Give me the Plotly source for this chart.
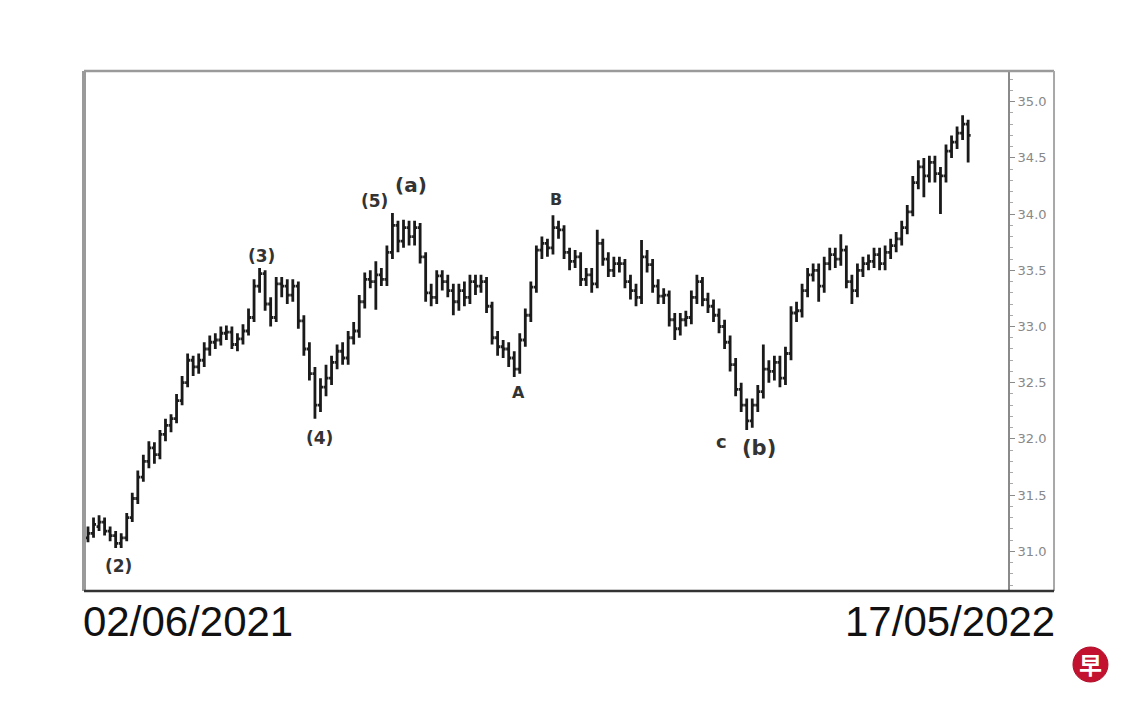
import plotly.graph_objects as go

# ---- data ----
opens = [31.12,31.16,31.22,31.26,31.18,31.14,31.07,31.12,31.30,31.47,
31.66,31.80,31.92,31.86,32.04,32.12,32.18,32.34,32.50,32.70,
32.64,32.70,32.80,32.86,32.88,32.94,32.95,32.84,32.89,32.96,
33.08,33.36,33.47,33.20,33.08,33.38,33.36,33.28,33.36,33.05,
32.80,32.58,32.30,32.46,32.54,32.68,32.78,32.72,32.90,32.96,
33.22,33.42,33.40,33.46,33.42,33.66,33.90,33.76,33.88,33.80,
33.88,33.62,33.30,33.26,33.45,33.40,33.32,33.22,33.32,33.26,
33.40,33.36,33.40,33.18,32.90,32.82,32.80,32.72,32.62,32.88,
33.10,33.35,33.68,33.74,33.70,33.88,33.86,33.66,33.58,33.62,
33.42,33.46,33.38,33.74,33.60,33.50,33.56,33.56,33.40,33.32,
33.26,33.62,33.55,33.36,33.27,33.28,33.06,32.98,33.06,33.08,
33.26,33.40,33.24,33.18,33.10,33.00,32.86,32.66,32.44,32.30,
32.16,32.30,32.42,32.62,32.60,32.68,32.54,32.76,33.12,33.14,
33.32,33.46,33.50,33.36,33.56,33.64,33.60,33.68,33.40,33.32,
33.50,33.56,33.58,33.64,33.56,33.66,33.72,33.78,33.88,34.02,
34.28,34.42,34.34,34.46,34.36,34.34,34.56,34.64,34.72,34.80]

highs = [31.22,31.30,31.32,31.30,31.22,31.18,31.16,31.34,31.52,31.72,
31.86,31.98,31.97,32.08,32.18,32.22,32.40,32.56,32.76,32.74,
32.76,32.86,32.92,32.94,33.00,33.01,33.00,32.94,33.02,33.16,
33.42,33.52,33.50,33.26,33.44,33.44,33.42,33.42,33.40,33.10,
32.86,32.64,32.54,32.66,32.74,32.84,32.86,32.96,33.04,33.28,
33.48,33.50,33.58,33.52,33.72,34.01,33.94,33.95,33.94,33.94,
33.92,33.66,33.38,33.50,33.50,33.46,33.38,33.38,33.40,33.46,
33.46,33.46,33.44,33.22,32.96,32.88,32.86,32.78,32.94,33.16,
33.40,33.72,33.80,33.78,33.99,33.94,33.90,33.70,33.68,33.66,
33.52,33.52,33.86,33.78,33.66,33.62,33.62,33.60,33.46,33.38,
33.77,33.68,33.60,33.42,33.34,33.32,33.12,33.12,33.14,33.32,
33.46,33.44,33.30,33.24,33.16,33.06,32.92,32.72,32.50,32.36,
32.36,32.48,32.84,32.70,32.74,32.74,32.82,33.18,33.22,33.38,
33.52,33.56,33.56,33.62,33.70,33.70,33.82,33.72,33.46,33.56,
33.62,33.64,33.70,33.70,33.72,33.78,33.84,33.94,34.08,34.34,
34.48,34.50,34.52,34.52,34.42,34.62,34.70,34.78,34.88,34.84]

lows = [31.08,31.12,31.18,31.14,31.09,31.03,31.03,31.09,31.26,31.42,
31.62,31.74,31.78,31.82,31.98,32.06,32.14,32.30,32.46,32.56,
32.58,32.64,32.74,32.80,32.83,32.88,32.80,32.78,32.84,32.92,
33.04,33.30,33.14,33.00,33.04,33.26,33.20,33.22,32.98,32.74,
32.52,32.18,32.24,32.38,32.48,32.62,32.66,32.66,32.84,32.90,
33.16,33.34,33.15,33.36,33.36,33.60,33.66,33.70,33.72,33.72,
33.56,33.22,33.18,33.20,33.32,33.26,33.10,33.14,33.18,33.20,
33.28,33.30,33.12,32.84,32.74,32.72,32.64,32.55,32.58,32.82,
33.04,33.30,33.60,33.62,33.64,33.78,33.60,33.50,33.52,33.36,
33.36,33.30,33.34,33.54,33.44,33.44,33.48,33.34,33.24,33.18,
33.20,33.48,33.30,33.20,33.20,33.00,32.88,32.92,33.00,33.02,
33.20,33.18,33.12,33.04,32.94,32.80,32.60,32.38,32.24,32.08,
32.10,32.24,32.36,32.50,32.52,32.46,32.48,32.70,33.04,33.08,
33.26,33.40,33.22,33.30,33.50,33.52,33.54,33.34,33.20,33.26,
33.44,33.50,33.52,33.50,33.50,33.60,33.66,33.72,33.82,33.98,
34.22,34.15,34.28,34.28,34.00,34.28,34.50,34.58,34.66,34.46]

closes = [31.16,31.24,31.26,31.18,31.14,31.07,31.12,31.30,31.47,31.66,
31.80,31.92,31.86,32.04,32.12,32.18,32.34,32.50,32.70,32.64,
32.70,32.80,32.86,32.88,32.94,32.95,32.84,32.89,32.96,33.08,
33.36,33.47,33.20,33.08,33.38,33.36,33.28,33.36,33.05,32.80,
32.58,32.30,32.46,32.54,32.68,32.78,32.72,32.90,32.96,33.22,
33.42,33.40,33.46,33.42,33.66,33.90,33.76,33.88,33.80,33.88,
33.62,33.30,33.26,33.45,33.40,33.32,33.22,33.32,33.26,33.40,
33.36,33.40,33.18,32.90,32.82,32.80,32.72,32.62,32.88,33.10,
33.35,33.68,33.74,33.70,33.88,33.86,33.66,33.58,33.62,33.42,
33.46,33.38,33.74,33.60,33.50,33.56,33.56,33.40,33.32,33.26,
33.62,33.55,33.36,33.27,33.28,33.06,32.98,33.06,33.08,33.26,
33.40,33.24,33.18,33.10,33.00,32.86,32.66,32.44,32.30,32.16,
32.30,32.42,32.62,32.60,32.68,32.54,32.76,33.12,33.14,33.32,
33.46,33.50,33.36,33.56,33.64,33.60,33.68,33.40,33.32,33.50,
33.56,33.58,33.64,33.56,33.66,33.72,33.78,33.88,34.02,34.28,
34.42,34.34,34.46,34.36,34.34,34.56,34.64,34.72,34.80,34.70]

wave_labels = ["(2)", "(3)", "(4)", "(5)", "(a)", "A", "B", "c", "(b)"]
wave_index = [5.6, 31.4, 41.9, 51.7, 58.4, 77.7, 84.6, 114.5, 121.2]
wave_price = [30.87, 33.63, 32.01, 34.12, 34.26, 32.41, 34.13, 31.98, 31.92]
wave_size = [17, 17, 17, 17, 20, 16, 16, 18, 21]

price_ticks = [31.0, 31.5, 32.0, 32.5, 33.0, 33.5, 34.0, 34.5, 35.0]
start_label = "02/06/2021"
end_label = "17/05/2022"

idx = list(range(len(closes)))

fig = go.Figure()
fig.add_trace(go.Ohlc(
    x=idx, open=opens, high=highs, low=lows, close=closes,
    increasing=dict(line=dict(color="#1a1a1a", width=2.8)),
    decreasing=dict(line=dict(color="#1a1a1a", width=2.8)),
    tickwidth=0.45, showlegend=False, hoverinfo="skip",
))

for t, xi, yp, fs in zip(wave_labels, wave_index, wave_price, wave_size):
    fig.add_annotation(x=xi, y=yp, xref="x", yref="y", text="<b>" + t + "</b>",
                       showarrow=False,
                       font=dict(family="DejaVu Sans", size=fs, color="#333333"),
                       xanchor="center", yanchor="middle")

XR = 1.0498  # outer frame right edge in paper coords

# frame
fig.add_shape(type="line", xref="paper", yref="paper", x0=0, x1=0, y0=0, y1=1,
              line=dict(color="#9a9a9a", width=4))
fig.add_shape(type="line", xref="paper", yref="paper", x0=0, x1=XR, y0=1, y1=1,
              line=dict(color="#9a9a9a", width=2.5))
fig.add_shape(type="line", xref="paper", yref="paper", x0=XR, x1=XR, y0=0, y1=1,
              line=dict(color="#a8a8a8", width=2))
fig.add_shape(type="line", xref="paper", yref="paper", x0=0, x1=XR, y0=0, y1=0,
              line=dict(color="#333333", width=2.5))

# date labels
fig.add_annotation(x=-0.003, y=-0.058, xref="paper", yref="paper", text=start_label,
                   showarrow=False, xanchor="left", yanchor="middle",
                   font=dict(family="Liberation Sans", size=42, color="#111111"))
fig.add_annotation(x=1.053, y=-0.058, xref="paper", yref="paper", text=end_label,
                   showarrow=False, xanchor="right", yanchor="middle",
                   font=dict(family="Liberation Sans", size=42, color="#111111"))

# logo
fig.add_shape(type="circle", xref="paper", yref="paper",
              x0=1.0703, x1=1.1082, y0=-0.175, y1=-0.1077,
              fillcolor="#c3122f", line=dict(color="#b00f2a", width=1))
fig.add_annotation(x=1.0893, y=-0.1413, xref="paper", yref="paper", text="<b>早</b>",
                   showarrow=False, xanchor="center", yanchor="middle",
                   font=dict(family="Noto Sans CJK SC", size=23, color="white"))

# page body has an 8px margin: figure is sized/offset to land on the reference pixels
fig.update_layout(
    width=1132, height=704,
    margin=dict(l=76, r=132, t=63, b=121),
    paper_bgcolor="white", plot_bgcolor="white",
    xaxis=dict(visible=False, range=[-0.72, 166.2], rangeslider=dict(visible=False)),
    yaxis=dict(side="right", range=[30.647, 35.273], tickvals=price_ticks,
               tickformat=".1f", showgrid=False, zeroline=False,
               showline=True, linecolor="#8a8a8a", linewidth=2,
               ticks="outside", ticklen=5, tickcolor="#8a8a8a", tickwidth=1,
               tickfont=dict(family="DejaVu Sans", size=13, color="#888888"),
               minor=dict(ticks="outside", ticklen=3, dtick=0.1,
                          tickcolor="#aaaaaa", showgrid=False)),
)

fig.write_html("out.html")
